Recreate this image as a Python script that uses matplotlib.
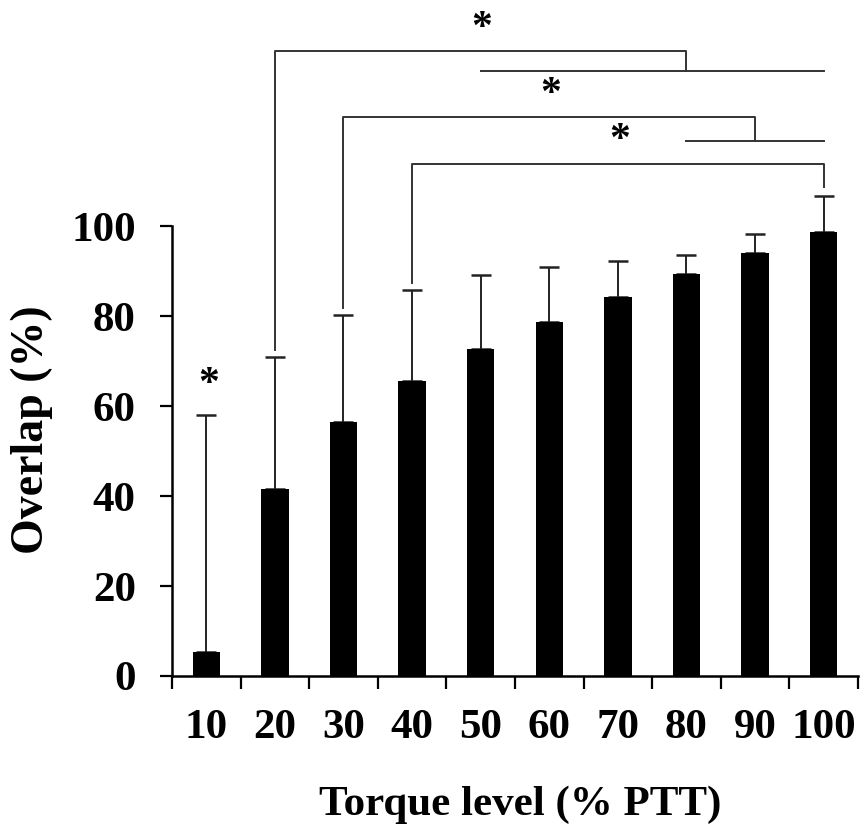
import numpy as np
import matplotlib.pyplot as plt

plt.rcParams['font.family'] = ['Liberation Serif', 'DejaVu Serif']
plt.rcParams['font.weight'] = 'bold'

# ---------- data ----------
levels = ['10', '20', '30', '40', '50', '60', '70', '80', '90', '100']
overlap = [5.4, 41.5, 56.5, 65.6, 72.7, 78.7, 84.2, 89.3, 94.1, 98.7]
overlap_sd = [52.7, 29.5, 23.8, 20.3, 16.5, 12.3, 8.1, 4.3, 4.2, 8.0]

# significance: (group index, first compared index, last compared index)
comparisons = [(1, 4, 9), (2, 7, 9), (3, 9, 9)]
single_star = 0  # 10 % level differs from all others

x = np.arange(len(levels))

fig = plt.figure(figsize=(8.64, 8.27), dpi=100)
ax = fig.add_axes([0.199, 0.1826, 0.794, 0.816])

ax.bar(x, overlap, width=0.4, color='black', zorder=2)
ax.errorbar(x, overlap, yerr=[np.zeros(len(x)), overlap_sd], fmt='none',
            ecolor='#222222', elinewidth=1.4, capsize=7, capthick=1.8, zorder=1)

ax.set_xlim(-0.5, len(levels) - 0.5)
ax.set_ylim(0, 150)
ax.set_yticks([0, 20, 40, 60, 80, 100])
ax.set_xticks(x)
ax.set_xticklabels(levels)
ax.set_xticks(np.arange(-0.5, len(levels), 1.0), minor=True)
ax.tick_params(axis='x', which='major', length=0, pad=24, labelsize=31)
ax.tick_params(axis='x', which='minor', length=9, width=1.6, direction='out')
ax.tick_params(axis='y', length=9, width=1.6, direction='out', pad=17, labelsize=31)

for s in ['top', 'right']:
    ax.spines[s].set_visible(False)
ax.spines['left'].set_bounds(0, 100)
ax.spines['left'].set_linewidth(1.8)
ax.spines['bottom'].set_linewidth(1.8)

fig.text(0.602, 0.015, 'Torque level (% PTT)', ha='center', va='baseline',
         fontsize=31, fontweight='bold')
fig.text(0.037, 0.48, 'Overlap (%)', ha='center', va='center', rotation=90,
         fontsize=33, fontweight='bold')

# ---------- significance brackets ----------
line_kw = dict(color='#333333', lw=1.4, clip_on=False)
bracket_h = [139, 124.2, 113.9]
sub_h = [134.4, 119.0, 108.7]
leg_x = [7, 8, 9]
star_pos = [(4.02, 143.9), (5.02, 129.2), (6.02, 118.9)]

for k, (g, a, b) in enumerate(comparisons):
    top = overlap[g] + overlap_sd[g] + 1.5
    ax.plot([g, g, leg_x[k], leg_x[k]], [top, bracket_h[k], bracket_h[k], sub_h[k]], **line_kw)
    if a != b:
        ax.plot([a, b], [sub_h[k], sub_h[k]], **line_kw)
    ax.text(star_pos[k][0], star_pos[k][1], '*', ha='center', va='center',
            fontsize=30, fontweight='bold', clip_on=False)

ax.text(single_star + 0.04, overlap[single_star] + overlap_sd[single_star] + 6.6, '*',
        ha='center', va='center', fontsize=30, fontweight='bold')

plt.savefig('out.png', dpi=100)
